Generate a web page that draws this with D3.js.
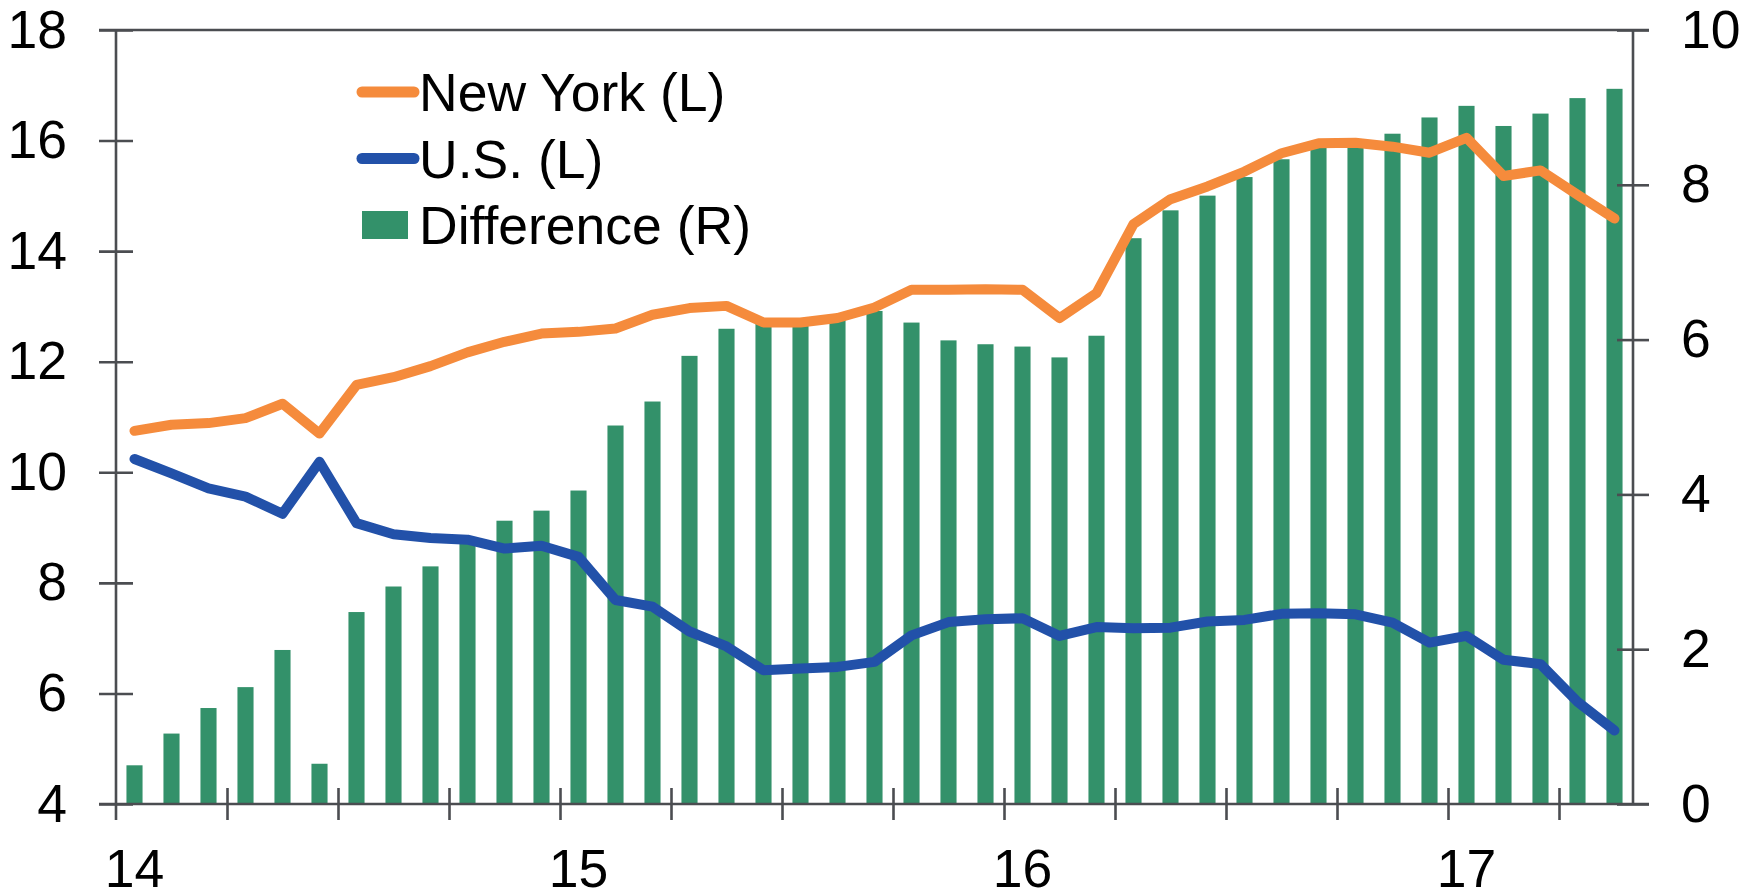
<!DOCTYPE html>
<html>
<head>
<meta charset="utf-8">
<script src="https://cdn.jsdelivr.net/npm/d3@7"></script>
<style>
  html, body { margin: 0; padding: 0; background: #fff; }
  svg { display: block; background: #fff; }
  text { font-family: "Liberation Sans", Arial, sans-serif; fill: #000; }
</style>
</head>
<body>
<svg id="chart"></svg>
<script>
// 月度数据：2014年1月 - 2017年5月
const months = d3.timeMonth.range(new Date(2014, 0, 1), new Date(2017, 5, 1));
const yearLabels = ["14", "15", "16", "17"];
const leftTicks = [4, 6, 8, 10, 12, 14, 16, 18];
const rightTicks = [0, 2, 4, 6, 8, 10];
const legendLabels = ["New York (L)", "U.S. (L)", "Difference (R)"];

const newYork = [10.75, 10.86, 10.89, 10.98, 11.24, 10.70, 11.58, 11.72, 11.92, 12.17, 12.36, 12.51,
  12.54, 12.60, 12.85, 12.97, 13.01, 12.71, 12.71, 12.79, 12.98, 13.30, 13.30, 13.31,
  13.30, 12.79, 13.24, 14.49, 14.94, 15.17, 15.44, 15.77, 15.95, 15.96, 15.89, 15.78,
  16.05, 15.36, 15.46, 15.02, 14.59];
const us = [10.24, 9.98, 9.71, 9.56, 9.25, 10.19, 9.08, 8.88, 8.81, 8.78, 8.62, 8.67,
  8.47, 7.69, 7.57, 7.12, 6.85, 6.42, 6.45, 6.48, 6.57, 7.05, 7.29, 7.34,
  7.36, 7.04, 7.20, 7.18, 7.19, 7.30, 7.33, 7.44, 7.45, 7.43, 7.28, 6.92,
  7.04, 6.61, 6.53, 5.85, 5.33];
const difference = [0.50, 0.91, 1.24, 1.51, 1.99, 0.52, 2.48, 2.81, 3.07, 3.37, 3.66, 3.79,
  4.05, 4.89, 5.20, 5.79, 6.14, 6.22, 6.19, 6.26, 6.37, 6.22, 5.99, 5.94,
  5.91, 5.77, 6.05, 7.31, 7.67, 7.86, 8.10, 8.33, 8.50, 8.55, 8.66, 8.87,
  9.02, 8.76, 8.92, 9.12, 9.24];

const width = 1756;
const height = 893;
const plot = { left: 116, right: 1633, top: 30, bottom: 804 };
const fontSize = 53.5;
const orange = "#f58b3c";
const blue = "#2251a9";
const green = "#33916a";
const axisColor = "#4b4d51";

const svg = d3.select("#chart").attr("width", width).attr("height", height);

const idx = months.map((d, i) => i);
const x = d3.scaleBand().domain(idx).range([plot.left, plot.right]).padding(0);
const xq = d3.scaleLinear().domain([0, months.length]).range([plot.left, plot.right]);
const yL = d3.scaleLinear().domain([4, 18]).range([plot.bottom, plot.top]);
const yR = d3.scaleLinear().domain([0, 10]).range([plot.bottom, plot.top]);
const cx = i => x(i) + x.bandwidth() / 2;
const barW = x.bandwidth() * 0.435;

// 柱状图（右轴）
svg.append("g")
  .selectAll("rect")
  .data(difference)
  .join("rect")
  .attr("x", (d, i) => cx(i) - barW / 2)
  .attr("y", d => yR(d))
  .attr("width", barW)
  .attr("height", d => yR(0) - yR(d))
  .attr("fill", green);

// 折线（左轴）
const line = d3.line().x((d, i) => cx(i)).y(d => yL(d));
[[newYork, orange], [us, blue]].forEach(([vals, color]) => {
  svg.append("path")
    .datum(vals)
    .attr("d", line)
    .attr("fill", "none")
    .attr("stroke", color)
    .attr("stroke-width", 10)
    .attr("stroke-linejoin", "round")
    .attr("stroke-linecap", "round");
});

// 坐标轴边框
const frame = svg.append("g").attr("stroke", axisColor).attr("stroke-width", 2.6);
frame.append("line").attr("x1", plot.left - 17).attr("x2", plot.right + 16).attr("y1", plot.top).attr("y2", plot.top);
frame.append("line").attr("x1", plot.left - 17).attr("x2", plot.right + 16).attr("y1", plot.bottom).attr("y2", plot.bottom);
frame.append("line").attr("x1", plot.left).attr("x2", plot.left).attr("y1", plot.top).attr("y2", plot.bottom + 16);
frame.append("line").attr("x1", plot.right).attr("x2", plot.right).attr("y1", plot.top).attr("y2", plot.bottom);

function styleAxis(g) {
  g.select(".domain").remove();
  g.selectAll(".tick line").attr("stroke", axisColor).attr("stroke-width", 2.6);
  g.selectAll(".tick text")
    .attr("font-size", fontSize)
    .attr("font-family", "Liberation Sans, Arial, sans-serif")
    .attr("fill", "#000");
}

const leftAxis = svg.append("g")
  .attr("transform", `translate(${plot.left},0)`)
  .call(d3.axisLeft(yL).tickValues(leftTicks).tickSize(17).tickPadding(32).tickFormat(d3.format("d")))
  .call(styleAxis);
leftAxis.selectAll(".tick line").attr("x1", 17);

const rightAxis = svg.append("g")
  .attr("transform", `translate(${plot.right},0)`)
  .call(d3.axisRight(yR).tickValues(rightTicks).tickSize(16).tickPadding(32).tickFormat(d3.format("d")))
  .call(styleAxis);
rightAxis.selectAll(".tick line").attr("x1", -16);

// 季度刻度
const quarterTicks = d3.range(3, months.length, 3);
const qAxis = svg.append("g")
  .attr("transform", `translate(0,${plot.bottom})`)
  .call(d3.axisBottom(xq).tickValues(quarterTicks).tickSize(16).tickFormat(""))
  .call(styleAxis);
qAxis.selectAll(".tick line").attr("y1", -16);

// 年份标签放在每年1月
const janIdx = idx.filter(i => months[i].getMonth() === 0);
svg.append("g")
  .attr("transform", `translate(0,${plot.bottom})`)
  .call(d3.axisBottom(x).tickValues(janIdx).tickSize(0).tickPadding(45)
    .tickFormat((d, i) => yearLabels[i]))
  .call(styleAxis);

// 图例
const legend = svg.append("g").attr("transform", "translate(362,92)");
const rowH = 66.5;
legendLabels.forEach((label, i) => {
  const row = legend.append("g").attr("transform", `translate(0,${i * rowH})`);
  if (i < 2) {
    row.append("line")
      .attr("x1", 0).attr("x2", 52).attr("y1", 0).attr("y2", 0)
      .attr("stroke", i === 0 ? orange : blue)
      .attr("stroke-width", 11)
      .attr("stroke-linecap", "round");
  } else {
    row.append("rect")
      .attr("x", 0).attr("y", -14).attr("width", 46).attr("height", 28)
      .attr("fill", green);
  }
  row.append("text")
    .attr("x", 57)
    .attr("y", 0)
    .attr("dy", "0.36em")
    .attr("font-size", fontSize)
    .text(label);
});

console.log("chart drawn", months.length, newYork.length, us.length, difference.length);
</script>
</body>
</html>
